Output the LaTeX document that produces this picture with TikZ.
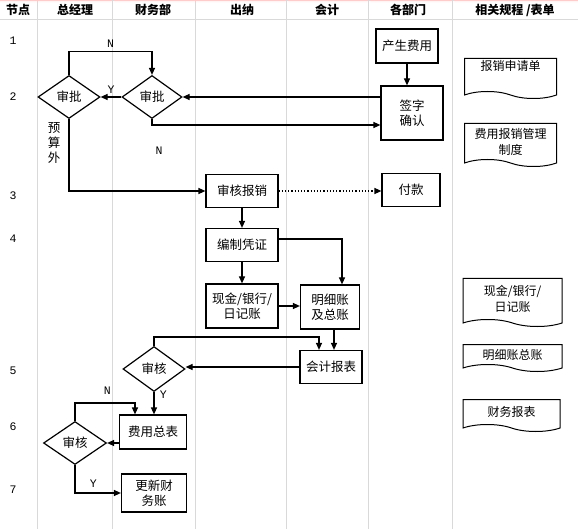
\documentclass[tikz,border=0pt]{standalone}
\usepackage{fontspec}
\setmainfont{Noto Sans CJK SC}
\newfontfamily\zahlfont{Liberation Mono}
\usetikzlibrary{arrows.meta,shapes.geometric,shapes.symbols}
\tikzset{
	kasten/.style={
		draw,
		line width=1.2pt,
		align=center,
		inner sep=1pt,
		font=\fontsize{12.5}{15}\selectfont
	},
	pruefung/.style={
		diamond,
		draw,
		line width=1.2pt,
		inner sep=0pt,
		minimum width=62pt,
		minimum height=43pt,
		font=\fontsize{12.5}{15}\selectfont
	},
	dokument/.style={
		tape,
		draw,
		line width=1pt,
		tape bend top=none,
		tape bend bottom=out and in,
		tape bend height=7pt,
		minimum width=92pt,
		inner sep=1pt,
		align=center,
		font=\fontsize{12}{16}\selectfont
	},
	pfeil/.style={
		-{Triangle[length=7pt,width=6pt]},
		line width=1.2pt
	},
	spalte/.style={
		color=black!15,
		line width=0.8pt
	},
	marke/.style={
		font=\zahlfont\fontsize{11.5}{13}\selectfont
	},
	kopf/.style={
		font=\bfseries\fontsize{12}{14}\selectfont
	}
}
\begin{document}
\begin{tikzpicture}[x=1pt,y=-1pt]
	\useasboundingbox (0,0) rectangle (578,529);
	% Raster
	\draw[color=red!20, line width=1pt] (0,0.5) -- (578,0.5);
	\draw[spalte] (0,19.5) -- (578,19.5);
	\foreach \sx in {37.7,112.7,195,286.5,368,452}
		\draw[spalte] (\sx,0) -- (\sx,529);
	% Kopfzeile
	\node[kopf] (hNode) at (18,10) {节点};
	\node[kopf] (hGM) at (75,10) {总经理};
	\node[kopf] (hFin) at (153,10) {财务部};
	\node[kopf] (hCash) at (242,10) {出纳};
	\node[kopf] (hAcc) at (327,10) {会计};
	\node[kopf] (hDept) at (408,10) {各部门};
	\node[kopf] (hForm) at (515,10) {相关规程 /表单};
	% Nummern
	\foreach \nr/\ny in {1/41,2/97,3/196,4/239,5/371,6/427,7/490}
		\node[marke] (nr\nr) at (13,\ny) {\nr};
	% Knoten
	\node[pruefung] (approveGM) at (69,97) {审批};
	\node[pruefung, minimum width=60pt] (approveFin) at (152,97) {审批};
	\node[kasten, minimum width=62pt, minimum height=34pt] (cost) at (407,46) {产生费用};
	\node[kasten, minimum width=62pt, minimum height=54pt] (sign) at (412,113) {签字\\确认};
	\node[kasten, minimum width=72pt, minimum height=33pt] (review) at (242,191) {审核报销};
	\node[kasten, minimum width=58pt, minimum height=33pt] (pay) at (411,190) {付款};
	\node[kasten, minimum width=72pt, minimum height=33pt] (voucher) at (242,245) {编制凭证};
	\node[kasten, minimum width=72pt, minimum height=44pt] (cashbook) at (242,306) {现金/银行/\\日记账};
	\node[kasten, minimum width=59pt, minimum height=44pt] (ledger) at (330,307) {明细账\\及总账};
	\node[kasten, minimum width=62pt, minimum height=33pt] (report) at (331,367) {会计报表};
	\node[pruefung, minimum height=45pt] (checkFin) at (154,369) {审核};
	\node[kasten, minimum width=67pt, minimum height=34pt] (summary) at (153,432) {费用总表};
	\node[pruefung, minimum width=63pt] (checkGM) at (75,443) {审核};
	\node[kasten, minimum width=65pt, minimum height=38pt] (update) at (154,493) {更新财\\务账};
	\node[font=\fontsize{12.5}{15}\selectfont, align=center] (budget) at (54,143) {预\\算\\外};
	% Dokumente
	\node[dokument, minimum height=40pt, text height=10pt, text depth=18pt] (formApply) at (510.5,75) {报销申请单};
	\node[dokument, minimum height=43pt] (formRule) at (510.5,141.5) {费用报销管理\\制度};
	\node[dokument, minimum width=99pt, minimum height=48pt] (formCash) at (512.5,299) {现金/银行/\\日记账};
	\node[dokument, minimum width=99pt, minimum height=27pt] (formLedger) at (512.5,354.5) {明细账总账};
	\node[dokument, minimum width=97pt, minimum height=32pt] (formReport) at (511.5,412) {财务报表};
	% Verbindungen
	\draw[pfeil] (approveGM.north) -- ++(0,-23) -| node[marke, pos=0.25, above] {N} (approveFin.north);
	\draw[pfeil] (approveFin.west) -- node[marke, above] {Y} (approveGM.east);
	\draw[pfeil] (approveFin.east -| sign.west) -- (approveFin.east);
	\draw[pfeil] (approveFin.south) |- ([yshift=-12pt]sign.west);
	\node[marke] (labelN) at (159,151) {N};
	\draw[pfeil] (approveGM.south) |- (review.west);
	\draw[pfeil, dotted] (review.east) -- (review.east -| pay.west);
	\draw[pfeil] (cost.south) -- (cost.south |- sign.north);
	\draw[pfeil] (review.south) -- (voucher.north);
	\draw[pfeil] (voucher.south) -- (cashbook.north);
	\draw[pfeil] ([yshift=6pt]voucher.east) -| ([xshift=12pt]ledger.north);
	\draw[pfeil] (cashbook.east) -- (cashbook.east -| ledger.west);
	\draw[pfeil] ([xshift=4pt]ledger.south) -- ([xshift=4pt]ledger.south |- report.north);
	\draw[pfeil] (checkFin.north) -- ++(0,-9) -| ([xshift=-12pt]report.north);
	\draw[pfeil] (report.west) -- (report.west -| checkFin.east);
	\draw[pfeil] (checkFin.south) -- node[marke, pos=0.1, right=2pt] {Y} (checkFin.south |- summary.north);
	\draw[pfeil] (checkGM.north) -- ++(0,-18) -| node[marke, pos=0.27, above=4pt] {N} ([xshift=-18pt]summary.north);
	\draw[pfeil] (checkGM.east -| summary.west) -- (checkGM.east);
	\draw[pfeil] (checkGM.south) |- node[marke, pos=0.7, above=2pt] {Y} (update.west);
\end{tikzpicture}
\end{document}
